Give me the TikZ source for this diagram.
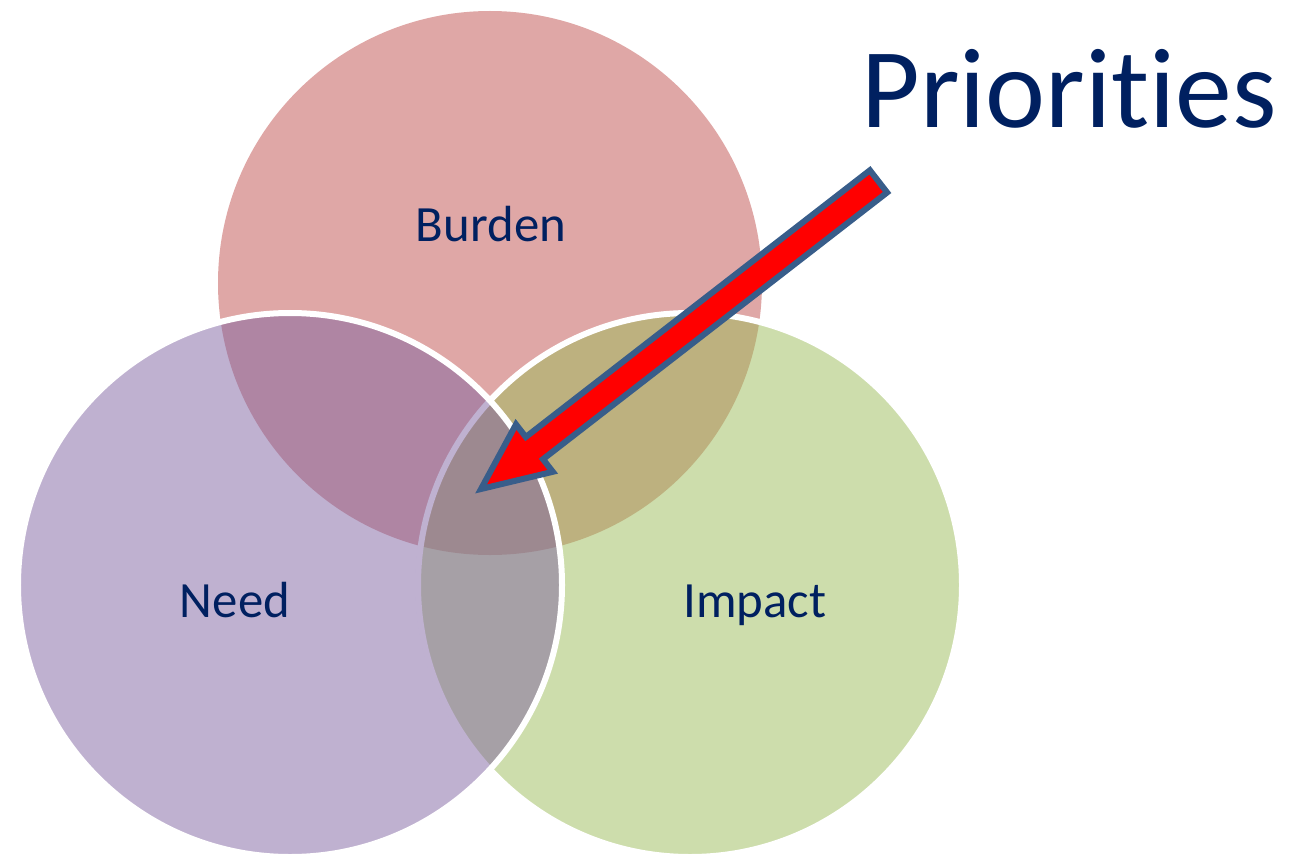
\documentclass[tikz,border=0pt]{standalone}
\usepackage{fontspec}
\setmainfont{Carlito}[Ligatures={NoCommon}]
\definecolor{burdenred}{HTML}{C0504D}
\definecolor{impactgreen}{HTML}{9BBB59}
\definecolor{needpurple}{HTML}{8064A2}
\definecolor{navytext}{HTML}{002060}
\definecolor{arrowedge}{HTML}{385D8A}
\definecolor{arrowred}{HTML}{FF0000}
\begin{document}
\begin{tikzpicture}[x=1bp,y=-1bp,
  venn/.style={circle,minimum size=544bp,inner sep=0pt,fill opacity=0.5},
  rim/.style={draw=white,line width=6bp,draw opacity=1},
  vlabel/.style={anchor=base,text=navytext,font=\fontsize{51}{60}\selectfont},
  pointer/.style={fill=arrowred,draw=arrowedge,line width=6bp,line join=miter}]
  \useasboundingbox (0,0) rectangle (1291,858);
  % three overlapping circles, drawn back to front
  \node[venn,fill=burdenred] (burden) at (490,283) {};
  \node[venn,fill=impactgreen,rim] (impact) at (690,585) {};
  \node[venn,fill=needpurple,rim] (need) at (290,585) {};
  % circle labels
  \node[vlabel] (lburden) at (491,241) {Burden};
  \node[vlabel] (lneed) at (235,617) {Need};
  \node[vlabel] (limpact) at (755,617) {Impact};
  % heading
  \node[anchor=base,text=navytext,font=\fontsize{114}{130}\selectfont] (title) at (1069,127) {Priorities};
  % block arrow pointing into the common overlap
  \draw[pointer] (481,489) -- (516.0,424.4) -- (525.8,437.0) -- (869.9,170.3)
    -- (887.1,192.5) -- (543.0,459.2) -- (552.8,471.8) -- cycle;
\end{tikzpicture}
\end{document}
